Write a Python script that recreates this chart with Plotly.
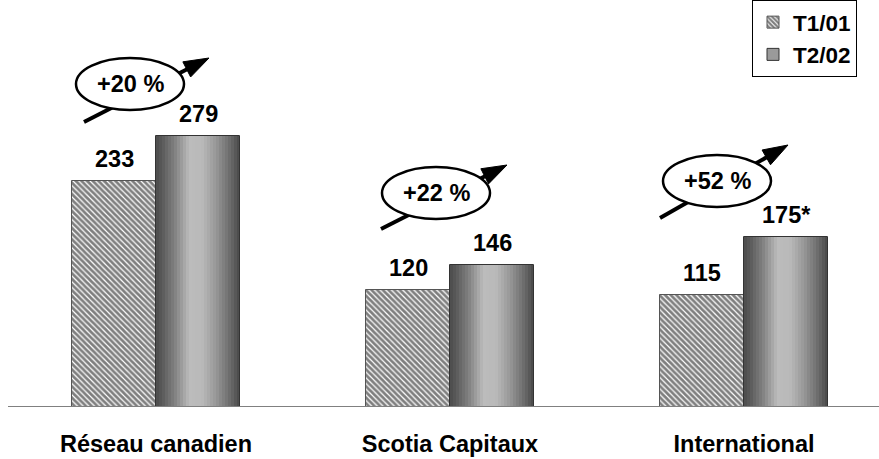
import numpy as np
import plotly.graph_objects as go

# ---------------- data ----------------
categories = ["Réseau canadien", "Scotia Capitaux", "International"]
t1_values = [233, 120, 115]
t2_values = [279, 146, 175]
t1_labels = ["233", "120", "115"]
t2_labels = ["279", "146", "175*"]
growth_labels = ["+20 %", "+22 %", "+52 %"]
series_names = ["T1/01", "T2/02"]

# ---------------- layout constants ----------------
W, H = 879, 459
ML, MR, MT, MB = 8, 0, 0, 52
PW, PH = W - ML - MR, H - MT - MB
CAT_PX = 294.0                      # pixels between category centres
X0 = -(156 - ML) / CAT_PX           # left end of x range
X1 = X0 + PW / CAT_PX
Y_MAX = 419.0
Y_PX = PH / Y_MAX                   # pixels per data unit
BAR_W = 84 / CAT_PX
FONT = "Liberation Sans, Arial, sans-serif"
FS = 23.5

def px_x(dx):
    return dx / CAT_PX

def px_y(dy):
    return -dy / Y_PX

# badge (ellipse) placement: centre offset from category centre (px), centre y (px from top)
badge_center = [(-26, 84), (-14, 193), (-27, 181)]
badge_half = (54, 26)
arrow_tail = [(-46, 38), (-55, 36), (-57, 37)]
arrow_tip = [(79, -26), (71, -28), (71, -36)]
HEAD_LEN, HEAD_HALF = 25, 8.5

# gradient stops for cylinder look (fraction across bar, grey level)
grad_pos = [0.0, 0.08, 0.22, 0.40, 0.55, 0.72, 0.88, 1.0]
grad_val = [75, 92, 128, 188, 185, 150, 108, 72]
N_STRIPS = 28

fig = go.Figure()

xs = np.arange(len(categories))

# T1 hatched bars
fig.add_trace(go.Bar(
    x=xs - BAR_W / 2, y=t1_values, width=BAR_W, name=series_names[0],
    marker=dict(color="white",
                pattern=dict(shape="\\", fgcolor="black", bgcolor="white", size=4, solidity=0.7),
                line=dict(color="#555555", width=1)),
    hoverinfo="skip",
))

# T2 gradient strips
sx, sy, sc = [], [], []
for i, v in enumerate(t2_values):
    for k in range(N_STRIPS):
        f = (k + 0.5) / N_STRIPS
        g = int(round(np.interp(f, grad_pos, grad_val)))
        sx.append(i + f * BAR_W)
        sy.append(v)
        sc.append(f"rgb({g},{g},{g})")
fig.add_trace(go.Bar(
    x=sx, y=sy, width=BAR_W / N_STRIPS * 1.08,
    marker=dict(color=sc, line=dict(width=0)),
    showlegend=False, hoverinfo="skip",
))
# T2 outline
fig.add_trace(go.Bar(
    x=xs + BAR_W / 2, y=t2_values, width=BAR_W,
    marker=dict(color="rgba(0,0,0,0)", line=dict(color="#333333", width=1)),
    showlegend=False, hoverinfo="skip",
))
# T2 legend entry
fig.add_trace(go.Bar(
    x=[None], y=[None], name=series_names[1],
    marker=dict(color="#9a9a9a", line=dict(color="#333333", width=1)),
))

annotations = []
shapes = []
for i in range(len(categories)):
    annotations.append(dict(x=i - BAR_W / 2, y=t1_values[i], text=t1_labels[i], showarrow=False,
                            yanchor="bottom", yshift=7,
                            font=dict(size=FS, family=FONT, color="black", weight="bold")))
    annotations.append(dict(x=i + BAR_W / 2, y=t2_values[i], text=t2_labels[i], showarrow=False,
                            yanchor="bottom", yshift=7,
                            font=dict(size=FS, family=FONT, color="black", weight="bold")))
    cdx, cpy = badge_center[i]
    cx = i + px_x(cdx)
    cy = (PH - cpy) / Y_PX
    tx, ty = arrow_tail[i]
    hx, hy = arrow_tip[i]
    L = np.hypot(hx - tx, hy - ty)
    ux, uy = (hx - tx) / L, (hy - ty) / L
    bx, by = hx - ux * HEAD_LEN, hy - uy * HEAD_LEN
    # arrow shaft (under the ellipse)
    shapes.append(dict(type="line", xref="x", yref="y",
                       x0=cx + px_x(tx), y0=cy + px_y(ty),
                       x1=cx + px_x(bx + ux * 2), y1=cy + px_y(by + uy * 2),
                       line=dict(color="black", width=4)))
    # ellipse
    shapes.append(dict(type="circle", xref="x", yref="y",
                       x0=cx - px_x(badge_half[0]), x1=cx + px_x(badge_half[0]),
                       y0=cy - badge_half[1] / Y_PX, y1=cy + badge_half[1] / Y_PX,
                       fillcolor="white", line=dict(color="black", width=2.5)))
    # arrow head (triangle)
    px_pts = [(hx, hy),
              (bx - uy * HEAD_HALF, by + ux * HEAD_HALF),
              (bx + uy * HEAD_HALF, by - ux * HEAD_HALF)]
    d = "M " + " L ".join(f"{cx + px_x(a):.5f},{cy + px_y(b):.4f}" for a, b in px_pts) + " Z"
    shapes.append(dict(type="path", xref="x", yref="y", path=d,
                       fillcolor="black", line=dict(color="black", width=1)))
    annotations.append(dict(x=cx, y=cy, text=growth_labels[i], showarrow=False,
                            font=dict(size=FS, family=FONT, color="black", weight="bold")))

fig.update_layout(
    width=W, height=H,
    margin=dict(l=ML, r=MR, t=MT, b=MB),
    paper_bgcolor="white", plot_bgcolor="white",
    barmode="overlay", bargap=0,
    font=dict(family=FONT, size=FS, color="black", weight="bold"),
    showlegend=True,
    legend=dict(x=(752 - ML) / PW, y=1.0, xanchor="left", yanchor="top",
                bordercolor="black", borderwidth=1, bgcolor="white",
                traceorder="normal", tracegroupgap=0,
                font=dict(size=22.5, family=FONT, color="black", weight="bold")),
    xaxis=dict(range=[X0, X1], tickvals=list(xs), ticktext=categories, showgrid=False,
               zeroline=False, showline=False, ticks="", ticklabelstandoff=20,
               tickfont=dict(size=FS, family=FONT, color="black", weight="bold"), fixedrange=True),
    yaxis=dict(range=[0, Y_MAX], visible=False, showgrid=False, zeroline=False, fixedrange=True),
    shapes=[dict(type="line", xref="paper", yref="y", x0=0, x1=1, y0=0, y1=0,
                 line=dict(color="#808080", width=2), layer="above")] + shapes,
    annotations=annotations,
)

fig.write_html("out.html", config={"displayModeBar": False},
               post_script="document.body.style.margin='0';document.body.style.overflow='hidden';")
